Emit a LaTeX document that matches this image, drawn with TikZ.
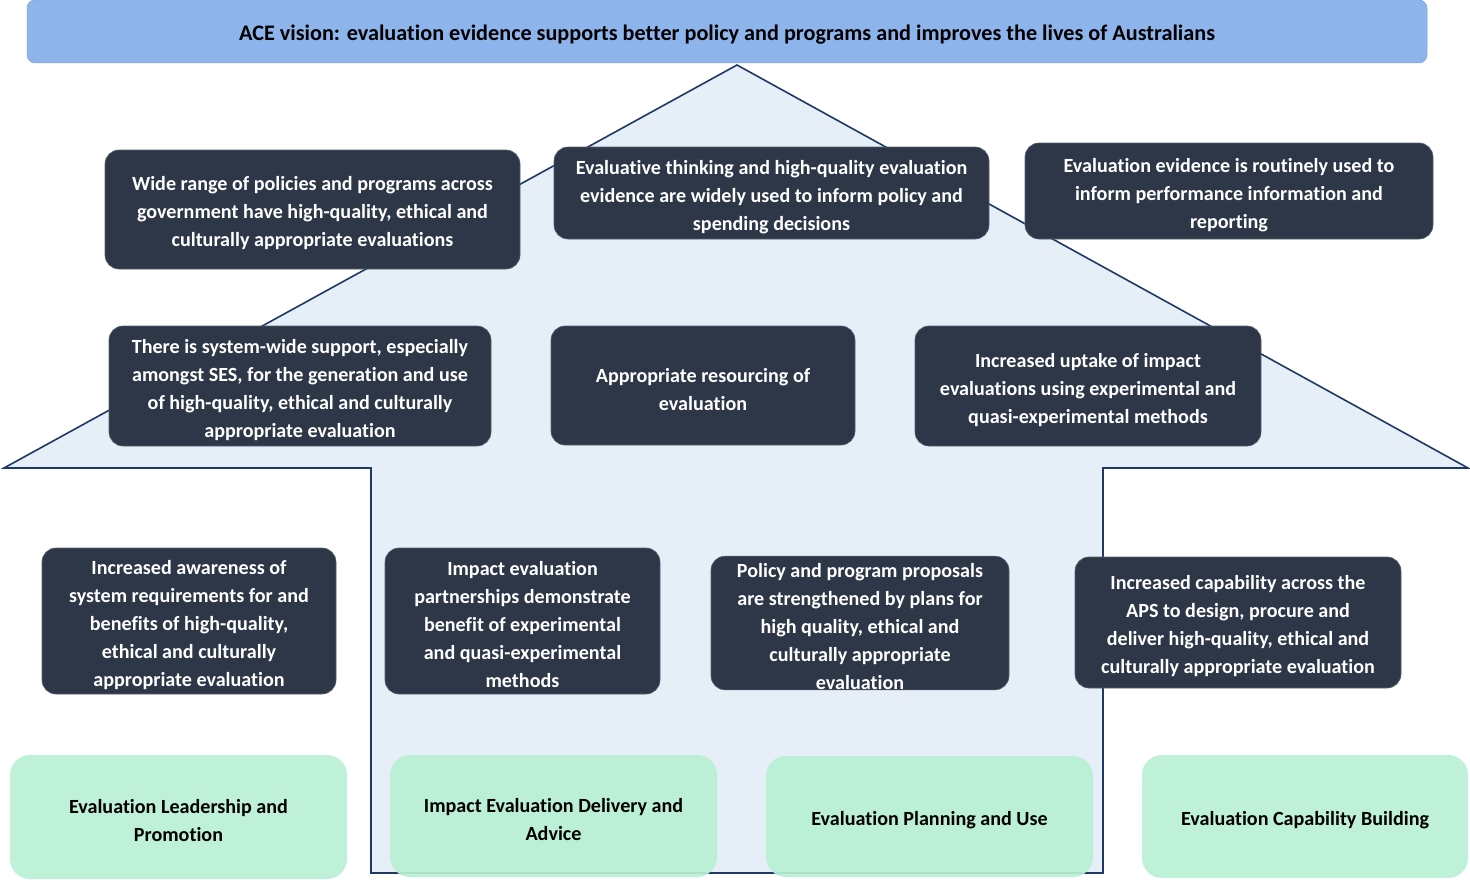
\documentclass[tikz,border=0pt]{standalone}
\usepackage{fontspec}
\setmainfont{Carlito}[Ligatures=NoCommon]
\definecolor{banner}{RGB}{142,180,236}
\definecolor{housefill}{RGB}{230,238,248}
\definecolor{houseline}{RGB}{31,56,100}
\definecolor{darkbox}{RGB}{45,55,72}
\definecolor{greenbox}{RGB}{184,240,212}
\newcommand{\myTopStrut}{\rule{0pt}{21.5pt}}
\tikzset{
  dbox/.style={rounded corners=14pt, fill=darkbox, draw=darkbox!80!white, line width=0.6pt, text=white,
    font=\bfseries\fontsize{20.1}{28}\selectfont, align=center, inner sep=0pt},
  gbox/.style={rounded corners=20pt, fill=greenbox, fill opacity=0.92, text opacity=1, text=black,
    font=\bfseries\fontsize{20.1}{28}\selectfont, align=center, inner sep=0pt},
  bannerbox/.style={rounded corners=8pt, fill=banner, draw=banner!90!black, line width=0.5pt, text=black,
    font=\bfseries\fontsize{22.2}{28}\selectfont, inner sep=0pt, align=center},
  housestyle/.style={fill=housefill, draw=houseline, line width=1.6pt, line join=miter}
}
\begin{document}
\begin{tikzpicture}[x=1pt,y=-1pt]
\useasboundingbox (0,0) rectangle (1470,883);
% house
\draw[housestyle] (737,65) -- (1468,468) -- (1103,468) -- (1103,873) -- (371,873) -- (371,468) -- (4,468) -- cycle;
% banner
\node[bannerbox, minimum width=1400pt, minimum height=63pt] (vision) at (727,31.5)
  {\myTopStrut ACE vision: evaluation evidence supports better policy and programs and improves the lives of Australians};
% top row
\node[dbox, minimum width=415pt, minimum height=119pt] (wide) at (312.5,209.5)
  {\myTopStrut Wide range of policies and programs across\\government have high-quality, ethical and\\culturally appropriate evaluations};
\node[dbox, minimum width=435pt, minimum height=92pt] (think) at (771.5,193)
  {\myTopStrut Evaluative thinking and high-quality evaluation\\evidence are widely used to inform policy and\\spending decisions};
\node[dbox, minimum width=408pt, minimum height=96pt] (perf) at (1229,191)
  {\myTopStrut Evaluation evidence is routinely used to\\inform performance information and\\reporting};
% middle row
\node[dbox, minimum width=382pt, minimum height=120pt] (system) at (300,386)
  {\myTopStrut There is system-wide support, especially\\amongst SES, for the generation and use\\of high-quality, ethical and culturally\\appropriate evaluation};
\node[dbox, minimum width=304pt, minimum height=119pt] (resource) at (703,385.5)
  {\myTopStrut Appropriate resourcing of\\evaluation};
\node[dbox, minimum width=346pt, minimum height=120pt] (uptake) at (1088,386)
  {\myTopStrut Increased uptake of impact\\evaluations using experimental and\\quasi-experimental methods};
% lower row
\node[dbox, minimum width=294pt, minimum height=146pt] (aware) at (189,621)
  {\myTopStrut Increased awareness of\\system requirements for and\\benefits of high-quality,\\ethical and culturally\\appropriate evaluation};
\node[dbox, minimum width=275pt, minimum height=146pt] (partner) at (522.5,621)
  {\myTopStrut Impact evaluation\\partnerships demonstrate\\benefit of experimental\\and quasi-experimental\\methods};
\node[dbox, minimum width=298pt, minimum height=132pt] (policy) at (860,623)
  {\myTopStrut Policy and program proposals\\are strengthened by plans for\\high quality, ethical and\\culturally appropriate\\evaluation};
\node[dbox, minimum width=326pt, minimum height=131pt] (capab) at (1238,622.5)
  {\myTopStrut Increased capability across the\\APS to design, procure and\\deliver high-quality, ethical and\\culturally appropriate evaluation};
% green row
\node[gbox, minimum width=337pt, minimum height=124pt] (lead) at (178.5,817)
  {\myTopStrut Evaluation Leadership and\\Promotion};
\node[gbox, minimum width=327pt, minimum height=122pt] (deliv) at (553.5,816)
  {\myTopStrut Impact Evaluation Delivery and\\Advice};
\node[gbox, minimum width=327pt, minimum height=121pt] (plan) at (929.5,816.5)
  {\myTopStrut Evaluation Planning and Use};
\node[gbox, minimum width=326pt, minimum height=123pt] (build) at (1305,816.5)
  {\myTopStrut Evaluation Capability Building};
\end{tikzpicture}
\end{document}
